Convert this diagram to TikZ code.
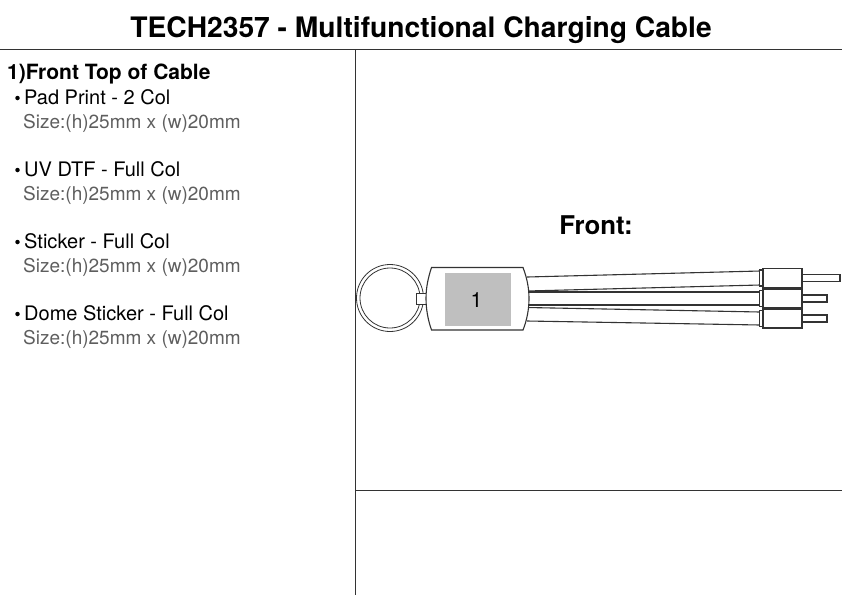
\documentclass[tikz,border=0pt]{standalone}
\usepackage{fontspec}
\setmainfont{TeX Gyre Heros}
\usepackage{tikz}
\usepackage{xcolor}
\definecolor{printgrey}{HTML}{BFBFBF}
\definecolor{sizegrey}{HTML}{5E5E5E}
\tikzset{
    rule/.style={line width=1pt, draw=black!80},
    outline/.style={line width=1.1pt, draw=black!80},
    heading/.style={anchor=base west, inner sep=0, font=\bfseries\fontsize{21}{24}\selectfont},
    method/.style={anchor=base west, inner sep=0, font=\fontsize{20}{24}\selectfont},
    sizeline/.style={anchor=base west, inner sep=0, text=sizegrey, font=\fontsize{19}{24}\selectfont},
    dot/.style={circle, fill=black, inner sep=0, minimum size=4.5pt}
}
\begin{document}
\begin{tikzpicture}[x=1pt, y=-1pt]
        \useasboundingbox (0, 0) rectangle (842, 595);

        \node[anchor=base, inner sep=0, font=\bfseries\fontsize{28.2}{32}\selectfont] (title) at (421, 37) {TECH2357 - Multifunctional Charging Cable};
        \draw[rule] (0, 49.5) -- (842, 49.5)
            (355.5, 49.5) -- (355.5, 595)
            (355.5, 490.5) -- (842, 490.5);

        \node[heading] (front top) at (7, 79) {1)Front Top of Cable};

        \foreach \name/\y/\label in {pad/104/Pad Print - 2 Col, uv/176/UV DTF - Full Col, sticker/248/Sticker - Full Col, dome/320/Dome Sticker - Full Col} {
            \node[dot] (\name dot) at (17.5, \y-6) {};
            \node[method] (\name) at (24, \y) {\label};
            \node[sizeline] (\name size) at (23, \y+24) {Size:(h)25mm x (w)20mm};
        }

        \node[anchor=base, inner sep=0, font=\bfseries\fontsize{25.8}{30}\selectfont] (front) at (596, 234) {Front:};

        % key ring
        \draw[outline, line width=.8pt] (390, 298) circle (33.5);
        \draw[outline, line width=.8pt] (390, 298) circle (30);
        \draw[outline, line width=.8pt, fill=white] (416, 293.5) rectangle (427, 304);

        % cables
        \foreach \ya/\yb/\yc/\yd in {277/291/271/285, 292/305/292/305, 307.5/321/312/325} {
            \draw[outline] (527, \ya) -- (760, \yc)
                (527, \yb) -- (760, \yd);
        }

        % connectors
        \foreach \y/\len in {278/840, 298.5/827, 318.5/827} {
            \draw[outline, fill=white] (802, \y-3.5) rectangle (\len, \y+3.5);
            \draw[outline, fill=white] (759.5, \y-8) rectangle (763, \y+8);
            \draw[outline, fill=white] (763, \y-9.5) rectangle (802, \y+9.5);
        }

        % body
        \draw[outline, fill=white] (431.5, 267.5) -- (523, 267.5)
            .. controls (527, 278) and (529, 288) .. (529, 298.5)
            .. controls (529, 309) and (527, 320) .. (523, 330)
            -- (431.5, 330)
            .. controls (428, 320) and (426, 309) .. (426, 298.5)
            .. controls (426, 288) and (428, 278) .. (431.5, 267.5) -- cycle;
        \fill[printgrey] (445, 273) rectangle (510.5, 326);
        \node[inner sep=0, font=\fontsize{21}{24}\selectfont] (one) at (476.5, 300.5) {1};
    \end{tikzpicture}
\end{document}
